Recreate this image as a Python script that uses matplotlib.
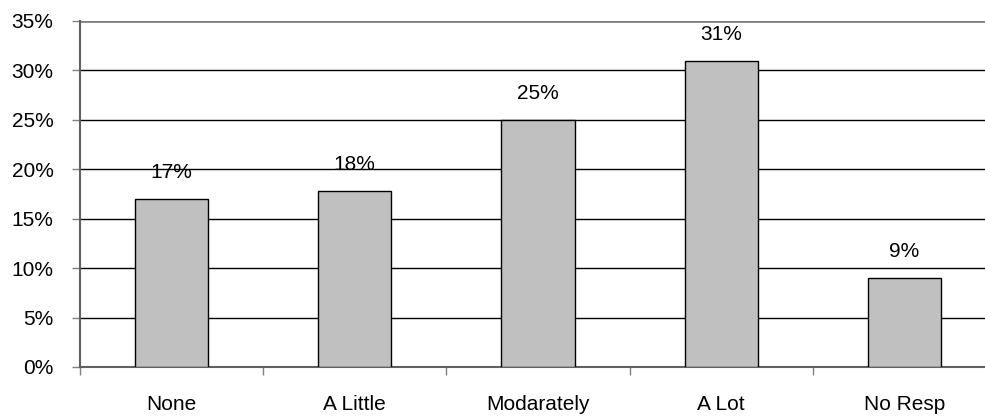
import matplotlib
matplotlib.use("Agg")
import matplotlib.pyplot as plt
from matplotlib.ticker import FixedLocator

plt.rcParams['font.family'] = ['Liberation Sans', 'DejaVu Sans']

# data
categories = ['None', 'A Little', 'Modarately', 'A Lot', 'No Resp']
values = [17, 17.8, 25, 31, 9]
y_ticks = [0, 5, 10, 15, 20, 25, 30, 35]

fig = plt.figure(figsize=(9.85, 4.17), dpi=100)
ax = fig.add_axes([80 / 985, 50 / 417, 916 / 985, 346 / 417])

x = list(range(len(categories)))
ax.bar(x, values, width=0.4, color='#c0c0c0', edgecolor='black', linewidth=1, zorder=3)

# value labels above the bars
for xi, v in zip(x, values):
    ax.annotate(f'{v:.0f}%', (xi, v), xytext=(0, 19), textcoords='offset points',
                ha='center', va='center', fontsize=15, zorder=4)

ax.set_xlim(-0.5, len(categories) - 0.5)
ax.set_ylim(0, 35)

# y axis
ax.set_yticks(y_ticks)
ax.set_yticklabels([f'{t}%' for t in y_ticks], fontsize=15)
for t in y_ticks[1:-1]:
    ax.axhline(t, color='black', linewidth=1, zorder=1)
ax.axhline(35, color='#808080', linewidth=2, zorder=1)
ax.tick_params(axis='y', length=6, width=1, color='#808080', pad=13)

# x axis: labels at centers, ticks between categories
ax.set_xticks(x)
ax.set_xticklabels(categories, fontsize=15)
ax.tick_params(axis='x', which='major', length=0, pad=20)
ax.xaxis.set_minor_locator(FixedLocator([i - 0.5 for i in range(len(categories) + 1)]))
ax.tick_params(axis='x', which='minor', length=6, width=1, color='#808080')

for side in ['top', 'right']:
    ax.spines[side].set_visible(False)
ax.spines['left'].set_color('#606060')
ax.spines['bottom'].set_color('#606060')
ax.spines['left'].set_linewidth(1.5)
ax.spines['bottom'].set_linewidth(1.5)

fig.savefig('out.png', dpi=100)
